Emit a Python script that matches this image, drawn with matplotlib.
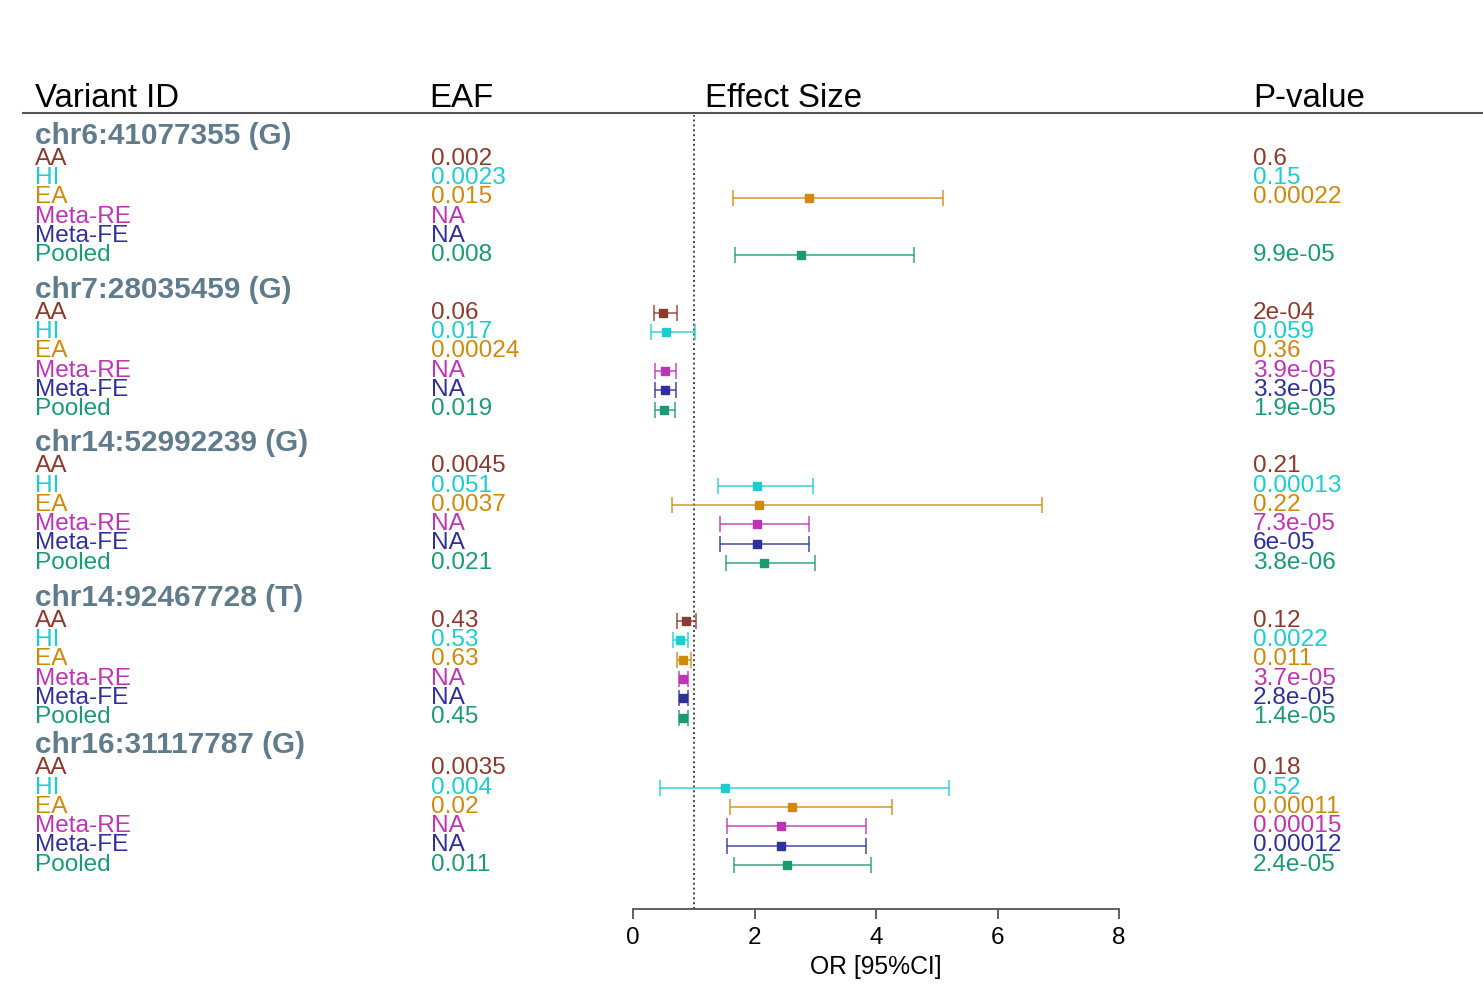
import matplotlib
matplotlib.use("Agg")
import matplotlib.pyplot as plt
import numpy as np

plt.rcParams['font.family'] = ['Liberation Sans', 'DejaVu Sans']

nan = np.nan

variants = ['chr6:41077355 (G)', 'chr7:28035459 (G)', 'chr14:52992239 (G)',
            'chr14:92467728 (T)', 'chr16:31117787 (G)']
cohorts = ['AA', 'HI', 'EA', 'Meta-RE', 'Meta-FE', 'Pooled']
colors = ['#8B3A2E', '#1DCDCD', '#CF8A0C', '#BE34B4', '#30309B', '#1A9B72']
header_color = '#607B8B'

eaf = [
    ['0.002', '0.0023', '0.015', 'NA', 'NA', '0.008'],
    ['0.06', '0.017', '0.00024', 'NA', 'NA', '0.019'],
    ['0.0045', '0.051', '0.0037', 'NA', 'NA', '0.021'],
    ['0.43', '0.53', '0.63', 'NA', 'NA', '0.45'],
    ['0.0035', '0.004', '0.02', 'NA', 'NA', '0.011'],
]
pvals = [
    ['0.6', '0.15', '0.00022', '', '', '9.9e-05'],
    ['2e-04', '0.059', '0.36', '3.9e-05', '3.3e-05', '1.9e-05'],
    ['0.21', '0.00013', '0.22', '7.3e-05', '6e-05', '3.8e-06'],
    ['0.12', '0.0022', '0.011', '3.7e-05', '2.8e-05', '1.4e-05'],
    ['0.18', '0.52', '0.00011', '0.00015', '0.00012', '2.4e-05'],
]
# odds ratio and 95% CI (nan = not shown)
odds = [
    [nan, nan, 2.90, nan, nan, 2.77],
    [0.49, 0.55, nan, 0.52, 0.52, 0.51],
    [nan, 2.04, 2.08, 2.04, 2.04, 2.15],
    [0.87, 0.78, 0.83, 0.82, 0.82, 0.82],
    [nan, 1.51, 2.62, 2.44, 2.44, 2.54],
]
ci_low = [
    [nan, nan, 1.65, nan, nan, 1.68],
    [0.34, 0.30, nan, 0.37, 0.37, 0.37],
    [nan, 1.40, 0.64, 1.43, 1.43, 1.53],
    [0.73, 0.66, 0.73, 0.75, 0.75, 0.75],
    [nan, 0.44, 1.60, 1.55, 1.55, 1.66],
]
ci_high = [
    [nan, nan, 5.10, nan, nan, 4.63],
    [0.72, 1.02, nan, 0.70, 0.70, 0.69],
    [nan, 2.96, 6.74, 2.90, 2.90, 2.99],
    [1.04, 0.91, 0.96, 0.91, 0.91, 0.90],
    [nan, 5.20, 4.27, 3.83, 3.83, 3.91],
]

# layout (figure pixel rows)
W, H = 1483, 1005
block_top = [159, 313, 466.5, 621, 768.5]
row_step = 19.3

fig = plt.figure(figsize=(W / 100, H / 100), dpi=100)
ax = fig.add_axes([0, 0, 1, 1])
ax.set_xlim(0, W)
ax.set_ylim(H, 0)
ax.axis('off')

# forest panel shares the pixel rows
ax_top, ax_bot = 115, 909
fa = fig.add_axes([633 / W, (H - ax_bot) / H, 486 / W, (ax_bot - ax_top) / H])
fa.set_xlim(0, 8)
fa.set_ylim(ax_bot, ax_top)
fa.patch.set_alpha(0)
for s in ['top', 'right', 'left']:
    fa.spines[s].set_visible(False)
fa.spines['bottom'].set_color('#555555')
fa.spines['bottom'].set_linewidth(1.3)
fa.set_yticks([])
fa.set_xticks([0, 2, 4, 6, 8])
fa.tick_params(axis='x', length=7, width=1.3, color='#555555', labelsize=17.5, pad=6)
fa.set_xlabel('OR [95%CI]', fontsize=17.8, labelpad=4)
fa.axvline(1, color='#444444', lw=1.4, ls=(0, (1, 1.5)))

# column headers
hy = 106.5
ax.text(35, hy, 'Variant ID', fontsize=23.8, va='baseline')
ax.text(429, hy, 'EAF', fontsize=23.8, va='baseline')
ax.text(705, hy, 'Effect Size', fontsize=23.8, va='baseline')
ax.text(1253, hy, 'P-value', fontsize=23.8, va='baseline')
ax.plot([23, W], [113, 113], color='#555555', lw=1.5)

for b, name in enumerate(variants):
    y0 = block_top[b]
    ax.text(35, y0 - 15.5, name, fontsize=21.4, fontweight='bold',
            color=header_color, va='baseline')
    for i, coh in enumerate(cohorts):
        y = y0 + i * row_step
        c = colors[i]
        ax.text(35, y + 5.7, coh, fontsize=17.6, color=c, va='baseline')
        ax.text(431, y + 5.7, eaf[b][i], fontsize=17.6, color=c, va='baseline')
        ax.text(1253, y + 5.7, pvals[b][i], fontsize=17.6, color=c, va='baseline')
        o = odds[b][i]
        if np.isnan(o):
            continue
        err = [[o - ci_low[b][i]], [ci_high[b][i] - o]]
        fa.errorbar([o], [y], xerr=err, fmt='none', ecolor=c, alpha=0.75,
                    elinewidth=1.3, capsize=5.8, capthick=1.3)
        fa.plot([o], [y], marker='s', ms=6.3, color=c, ls='none')

fig.savefig('out.png', dpi=100)
